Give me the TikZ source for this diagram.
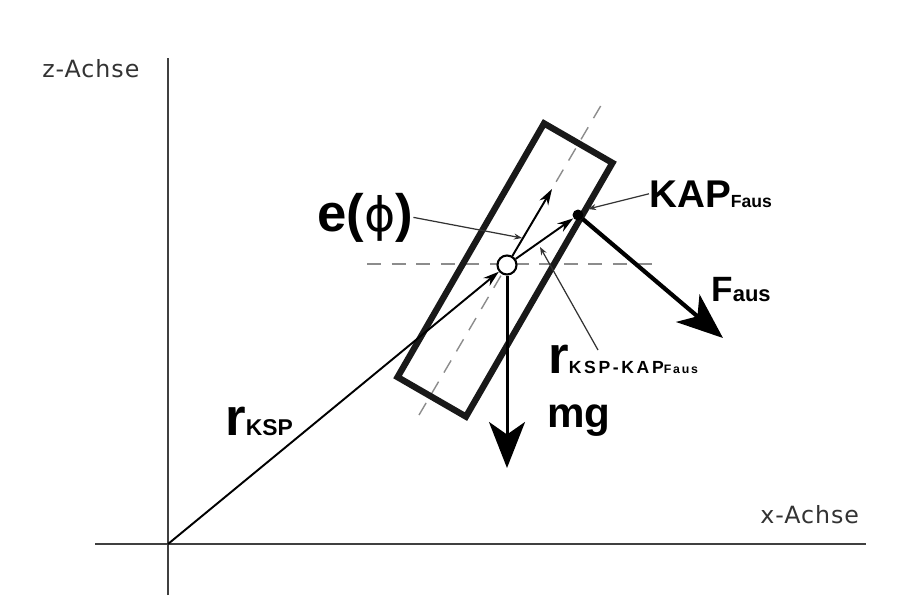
\documentclass[tikz,border=0pt]{standalone}
\usepackage{fontspec}
\setmainfont{Liberation Sans}
\newfontfamily\axisfont[LetterSpace=4]{DejaVu Sans}
\newfontfamily\widefont[LetterSpace=15]{Liberation Sans}
\newfontfamily\phifont{DejaVu Sans}
\usetikzlibrary{arrows.meta}

\begin{document}
\begin{tikzpicture}[
  x=0.02cm, y=-0.02cm,
  axis/.style={draw=black!75, line width=1.1pt},
  axislabel/.style={font=\axisfont\fontsize{13.5}{16}\selectfont, text=black!80,
                    inner sep=0pt, anchor=base west},
  body/.style={rectangle, draw=black!90, line width=3.6pt, minimum width=5.86cm,
               minimum height=1.58cm, inner sep=0pt},
  refline/.style={draw=black!45, line width=0.8pt, dash pattern=on 8pt off 6pt},
  vec/.style={-{Stealth[length=0.32cm, width=0.2cm]}, line width=1.1pt},
  force/.style={-{Stealth[length=0.92cm, width=0.72cm, inset=0.25cm]}, line width=2pt},
  pointer/.style={-{Stealth[length=0.16cm, width=0.12cm]}, line width=0.7pt, black!80},
  lbl/.style={inner sep=0pt, anchor=base west}
]
\useasboundingbox (0,0) rectangle (902,606);

% axes
\coordinate (O)    at (168,544);
\coordinate (zbot) at (168,595);
\coordinate (zend) at (168,58);
\coordinate (xbeg) at (95,544);
\coordinate (xend) at (866,544);
\draw[axis] (zbot) -- (zend);
\draw[axis] (xbeg) -- (xend);
\node[axislabel] (zlabel) at (42,77)  {z-Achse};
\node[axislabel] (xlabel) at (760,523) {x-Achse};

% reference lines
\coordinate (hleft)  at (367,264);
\coordinate (hright) at (660,264);
\coordinate (abot)   at (419,415);
\coordinate (atop)   at (603,102);
\draw[refline] (hleft) -- (hright);
\draw[refline] (abot) -- (atop);

% body
\node[body, rotate=60] (body) at (505,270) {};
\node[circle, draw, line width=1.2pt, fill=white, minimum size=0.38cm, inner sep=0pt] (ksp) at (507,265) {};
\node[circle, fill, minimum size=0.22cm, inner sep=0pt] (kap) at (578,215) {};

% vectors
\coordinate (etip)  at (552,189);
\coordinate (ftip)  at (723,338);
\coordinate (mgtip) at (507,468);
\draw[vec] (O) -- (ksp);
\draw[vec] (ksp) -- (etip);
\draw[vec] (ksp) -- (kap);
\draw[force, line width=2.4pt] (kap) -- (ftip);
\draw[force, line width=1.7pt] (ksp) -- (mgtip);

% labels
\node[lbl, font=\bfseries\fontsize{30}{34}\selectfont] (ephi) at (317,231)
  {e({\phifont\mdseries\fontsize{27}{30}\selectfont ϕ})};
\node[lbl, font=\bfseries\fontsize{22}{26}\selectfont] (kaplabel) at (649,207)
  {KAP{\fontsize{10}{12}\selectfont Faus}};
\node[lbl, font=\bfseries\fontsize{20}{24}\selectfont] (flabel) at (711,301)
  {F{\fontsize{12.5}{15}\selectfont aus}};
\node[lbl, font=\bfseries\fontsize{30}{34}\selectfont] (rksp) at (225,435)
  {r{\fontsize{13}{15}\selectfont KSP}};
\node[lbl, font=\bfseries\fontsize{30}{34}\selectfont] (rkap) at (548,373)
  {r{\widefont\bfseries\fontsize{10}{12}\selectfont KSP-KAP{\fontsize{7}{8}\selectfont Faus}}};
\node[lbl, font=\bfseries\fontsize{24}{28}\selectfont] (mglabel) at (547,427) {mg};

% pointers
\coordinate (eptr)   at (522,238);
\coordinate (kapptr) at (588,209);
\coordinate (rptr)   at (540,247);
\coordinate (rfoot)  at (598,350);
\draw[pointer] (ephi.east) -- (eptr);
\draw[pointer] (kaplabel.west) -- (kapptr);
\draw[pointer] (rfoot) -- (rptr);

\end{tikzpicture}
\end{document}
